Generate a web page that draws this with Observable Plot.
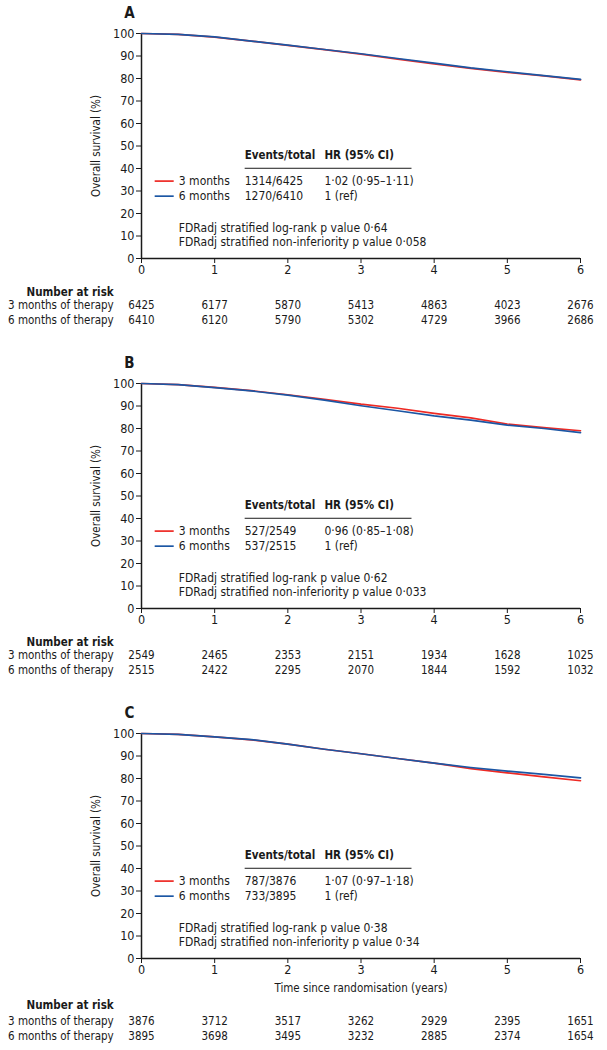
<!DOCTYPE html>
<html>
<head>
<meta charset="utf-8">
<script src="https://cdn.jsdelivr.net/npm/d3@7"></script>
<script src="https://cdn.jsdelivr.net/npm/@observablehq/plot@0.6"></script>
<style>
  html, body { margin: 0; padding: 0; background: #fff; }
  #chart svg { display: block; }
</style>
</head>
<body>
<div id="chart"></div>
<script>
// ---------- data ----------
const times = [0, 0.5, 1, 1.5, 2, 2.5, 3, 3.5, 4, 4.5, 5, 5.5, 6];
const riskTimes = [0, 1, 2, 3, 4, 5, 6];
const panelLetters = ["A", "B", "C"];
const groupLabels = ["3 months", "6 months"];
const riskRowLabels = ["3 months of therapy", "6 months of therapy"];

const survA3 = [100, 99.6, 98.4, 96.6, 94.7, 92.8, 90.8, 88.6, 86.5, 84.5, 82.7, 81.2, 79.4];
const survA6 = [100, 99.6, 98.5, 96.6, 94.8, 92.9, 91.0, 88.9, 86.8, 84.7, 83.0, 81.3, 79.6];
const survB3 = [100, 99.5, 98.3, 96.8, 95.0, 93.0, 90.8, 89.0, 86.7, 84.7, 82.0, 80.4, 79.0];
const survB6 = [100, 99.5, 98.2, 96.7, 94.8, 92.6, 90.1, 87.9, 85.6, 83.7, 81.5, 80.0, 78.2];
const survC3 = [100, 99.6, 98.5, 97.2, 95.3, 93.0, 91.0, 88.9, 86.8, 84.4, 82.5, 80.7, 79.0];
const survC6 = [100, 99.6, 98.5, 97.3, 95.3, 93.0, 91.0, 88.9, 86.8, 84.9, 83.3, 81.8, 80.3];

const riskA3 = [6425, 6177, 5870, 5413, 4863, 4023, 2676];
const riskA6 = [6410, 6120, 5790, 5302, 4729, 3966, 2686];
const riskB3 = [2549, 2465, 2353, 2151, 1934, 1628, 1025];
const riskB6 = [2515, 2422, 2295, 2070, 1844, 1592, 1032];
const riskC3 = [3876, 3712, 3517, 3262, 2929, 2395, 1651];
const riskC6 = [3895, 3698, 3495, 3232, 2885, 2374, 1654];

const eventsA = ["1314/6425", "1270/6410"];
const eventsB = ["527/2549", "537/2515"];
const eventsC = ["787/3876", "733/3895"];
const hrA = ["1·02 (0·95–1·11)", "1 (ref)"];
const hrB = ["0·96 (0·85–1·08)", "1 (ref)"];
const hrC = ["1·07 (0·97–1·18)", "1 (ref)"];
const pLogRank = ["0·64", "0·62", "0·38"];
const pNonInf = ["0·058", "0·033", "0·34"];

// ---------- styling ----------
const FONT = "'Liberation Sans Narrow', 'DejaVu Sans Condensed', 'Liberation Sans', sans-serif";
const RED = "#ee2a24";
const BLUE = "#1b56a4";
const INK = "#1a1a1a";

function panel(i, s3, s6, r3, r6, ev, hr, isLast) {
  const line3 = times.map((t, k) => ({t, v: s3[k]}));
  const line6 = times.map((t, k) => ({t, v: s6[k]}));
  const risk3 = riskTimes.map((t, k) => ({t, n: r3[k]}));
  const risk6 = riskTimes.map((t, k) => ({t, n: r6[k]}));
  const yNar = isLast ? -20.9 : -15.1;
  const yR1 = isLast ? -28.0 : -20.9;
  const yR2 = isLast ? -34.7 : -27.6;
  const T = (x, y, text, o = {}) => Plot.text([text], {x: () => x, y: () => y, text: d => d, fill: INK, textAnchor: "start", fontSize: 12, ...o});
  return Plot.plot({
    width: 607, height: 350,
    marginLeft: 141, marginRight: 27, marginTop: 33, marginBottom: 92,
    x: {domain: [0, 6]},
    y: {domain: [0, 100]},
    style: {fontFamily: FONT, fontSize: "12px", color: INK, background: "#fff"},
    marks: [
      Plot.axisY({ticks: d3.range(0, 101, 10), tickFormat: d => String(d), tickSize: 5, tickPadding: 2, label: null, fontSize: 12.5, stroke: INK}),
      Plot.axisX({ticks: riskTimes, tickFormat: d => String(d), tickSize: 5, tickPadding: 2, label: null, fontSize: 12.5, stroke: INK}),
      Plot.ruleX([0], {stroke: INK, strokeWidth: 1.5}),
      Plot.ruleY([0], {stroke: INK, strokeWidth: 1.5}),
      Plot.line(line3, {x: "t", y: "v", stroke: RED, strokeWidth: 1.7}),
      Plot.line(line6, {x: "t", y: "v", stroke: BLUE, strokeWidth: 1.7}),
      T(-0.164, 109.1, panelLetters[i], {fontWeight: "bold", fontSize: 15, textAnchor: "middle"}),
      T(-0.615, 50, "Overall survival (%)", {rotate: -90, textAnchor: "middle", fontSize: 11.5}),
      T(1.41, 45.8, "Events/total", {fontWeight: "bold", fontSize: 11.5}),
      T(2.50, 45.8, "HR (95% CI)", {fontWeight: "bold", fontSize: 11.5}),
      Plot.link([0], {x1: () => 1.41, x2: () => 3.69, y1: () => 40.1, y2: () => 40.1, stroke: INK, strokeWidth: 1}),
      Plot.link([0], {x1: () => 0.18, x2: () => 0.44, y1: () => 34.4, y2: () => 34.4, stroke: RED, strokeWidth: 1.7}),
      Plot.link([0], {x1: () => 0.18, x2: () => 0.44, y1: () => 27.7, y2: () => 27.7, stroke: BLUE, strokeWidth: 1.7}),
      T(0.51, 34.4, groupLabels[0]),
      T(0.51, 27.7, groupLabels[1]),
      T(1.41, 34.4, ev[0]),
      T(1.41, 27.7, ev[1]),
      T(2.50, 34.4, hr[0]),
      T(2.50, 27.7, hr[1]),
      T(0.51, 13.5, "FDRadj stratified log-rank p value " + pLogRank[i]),
      T(0.51, 7.2, "FDRadj stratified non-inferiority p value " + pNonInf[i]),
      ...(isLast ? [T(3, -13.3, "Time since randomisation (years)", {textAnchor: "middle", fontSize: 11.5})] : []),
      T(-0.38, yNar, "Number at risk", {fontWeight: "bold", textAnchor: "end", fontSize: 11.5}),
      T(-0.38, yR1, riskRowLabels[0], {textAnchor: "end", fontSize: 11.5}),
      T(-0.38, yR2, riskRowLabels[1], {textAnchor: "end", fontSize: 11.5}),
      Plot.text(risk3, {x: "t", y: () => yR1, text: d => String(d.n), fill: INK, fontSize: 11.5}),
      Plot.text(risk6, {x: "t", y: () => yR2, text: d => String(d.n), fill: INK, fontSize: 11.5})
    ]
  });
}

const root = document.getElementById("chart");
root.append(panel(0, survA3, survA6, riskA3, riskA6, eventsA, hrA, false));
root.append(panel(1, survB3, survB6, riskB3, riskB6, eventsB, hrB, false));
root.append(panel(2, survC3, survC6, riskC3, riskC6, eventsC, hrC, true));
</script>
</body>
</html>
